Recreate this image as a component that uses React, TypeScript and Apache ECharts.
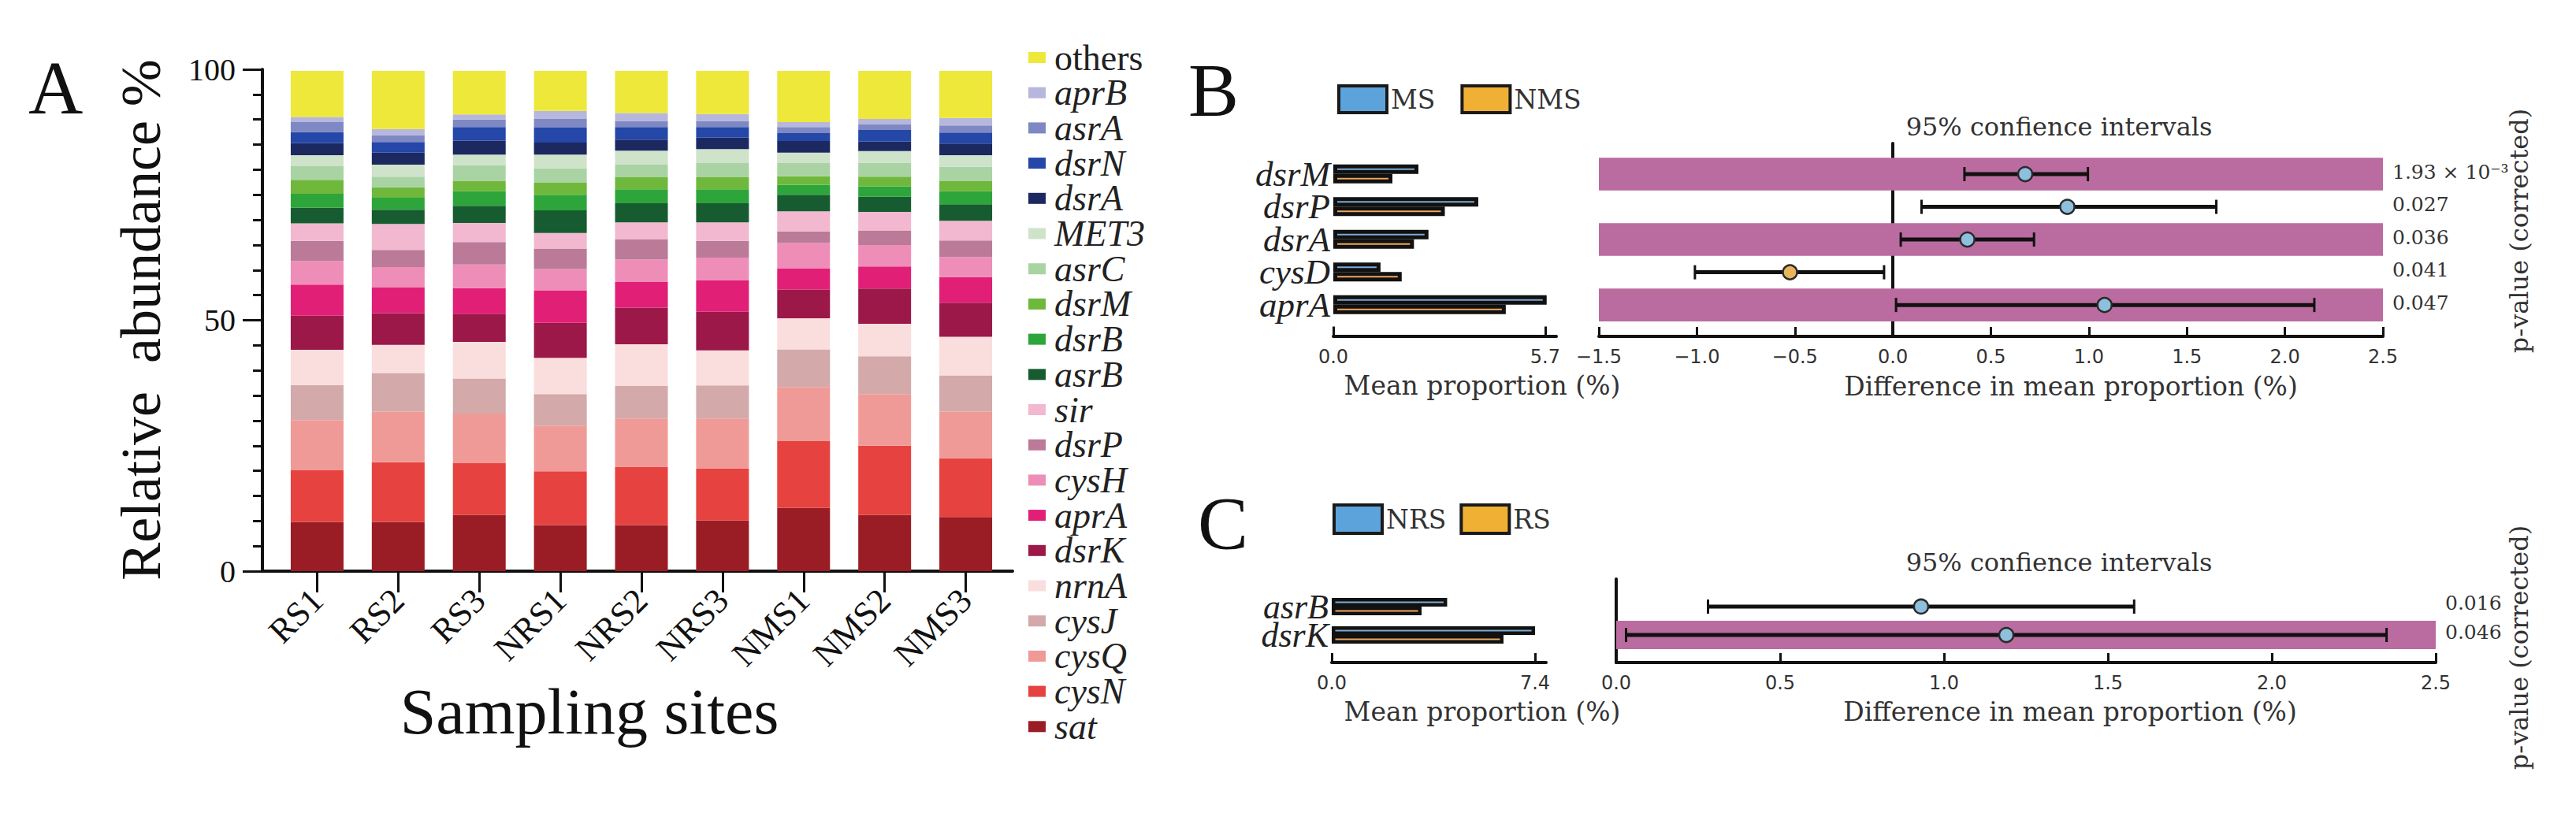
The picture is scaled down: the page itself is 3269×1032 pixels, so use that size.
import React, { useEffect, useRef } from 'react';
import * as echarts from 'echarts';

// ---------------- Panel A data ----------------
const sites = ['RS1', 'RS2', 'RS3', 'NRS1', 'NRS2', 'NRS3', 'NMS1', 'NMS2', 'NMS3'];
const others = [9.2, 11.6, 8.7, 8.0, 8.4, 8.6, 10.2, 9.6, 9.4];
const aprB = [1.0, 1.2, 1.0, 1.6, 1.6, 1.4, 1.0, 1.0, 1.5];
const asrA = [2.0, 1.4, 1.5, 1.7, 1.2, 1.2, 1.2, 1.2, 1.4];
const dsrN = [2.2, 2.1, 2.7, 3.0, 2.5, 2.1, 1.6, 2.3, 2.2];
const dsrA = [2.4, 2.4, 2.8, 2.4, 2.2, 2.3, 2.3, 1.9, 2.3];
const MET3 = [2.2, 2.4, 2.1, 2.7, 2.7, 2.8, 2.1, 2.3, 2.3];
const asrC = [2.7, 2.1, 3.1, 2.9, 2.6, 2.8, 2.6, 2.8, 2.9];
const dsrM = [2.8, 2.1, 2.1, 2.4, 2.4, 2.4, 1.7, 1.9, 2.0];
const dsrB = [2.8, 2.4, 2.9, 3.1, 2.8, 2.8, 2.0, 2.1, 2.6];
const asrB = [3.1, 2.8, 3.4, 4.5, 3.8, 3.8, 3.3, 3.0, 3.3];
const sir = [3.5, 5.2, 3.8, 3.1, 3.4, 3.7, 4.0, 3.8, 3.9];
const dsrP = [4.0, 3.4, 4.5, 4.1, 4.0, 3.3, 2.3, 2.8, 3.3];
const cysH = [4.7, 4.0, 4.7, 4.3, 4.5, 4.5, 5.1, 4.3, 4.0];
const aprA = [6.2, 5.2, 5.1, 6.4, 5.1, 6.3, 4.2, 4.4, 5.1];
const dsrK = [6.8, 6.3, 5.6, 7.0, 7.3, 7.7, 5.7, 7.0, 6.8];
const nrnA = [7.0, 5.6, 7.3, 7.2, 8.3, 7.0, 6.2, 6.5, 7.7];
const cysJ = [7.0, 7.7, 7.0, 6.3, 6.5, 6.6, 7.5, 7.5, 7.2];
const cysQ = [10.0, 10.1, 9.9, 9.1, 9.6, 10.0, 10.8, 10.3, 9.3];
const cysN = [10.3, 11.9, 10.3, 10.7, 11.6, 10.3, 13.3, 13.8, 11.7];
const sat = [9.8, 9.8, 11.2, 9.2, 9.2, 10.1, 12.6, 11.2, 10.8];

// legend order (top to bottom)
const geneNamesA = ['others', 'aprB', 'asrA', 'dsrN', 'dsrA', 'MET3', 'asrC', 'dsrM', 'dsrB', 'asrB',
  'sir', 'dsrP', 'cysH', 'aprA', 'dsrK', 'nrnA', 'cysJ', 'cysQ', 'cysN', 'sat'];
const geneDataA = [others, aprB, asrA, dsrN, dsrA, MET3, asrC, dsrM, dsrB, asrB,
  sir, dsrP, cysH, aprA, dsrK, nrnA, cysJ, cysQ, cysN, sat];
const geneColorsA = ['#EEE83A', '#B7B6DD', '#7E88C3', '#2447A8', '#1C2860', '#CFE2CA', '#A9D3A3', '#6FB83C',
  '#2DA53A', '#175C30', '#F1B8CF', '#BB7A98', '#EE8DB8', '#E11F76', '#9B1849', '#FADDDD', '#D3A9A9',
  '#F09A98', '#E6423F', '#9A1C25'];
const ticksA = [0, 50, 100];

// ---------------- Panel B data ----------------
const genesB = ['dsrM', 'dsrP', 'dsrA', 'cysD', 'aprA'];
const meanMS = [2.29, 3.9, 2.56, 1.27, 5.74];
const meanNMS = [1.59, 3.0, 2.17, 1.84, 4.64];
const diffB = [0.675, 0.89, 0.38, -0.525, 1.08];
const ciLowB = [0.365, 0.146, 0.04, -1.01, 0.016];
const ciHighB = [0.995, 1.65, 0.72, -0.045, 2.15];
const pValuesB = ['1.93 × 10⁻³', '0.027', '0.036', '0.041', '0.047'];
const shadedRowsB = [0, 2, 4];
const leftTicksB = [0, 5.7];

// ---------------- Panel C data ----------------
const genesC = ['asrB', 'dsrK'];
const meanNRS = [4.2, 7.4];
const meanRS = [3.27, 6.25];
const diffC = [0.93, 1.19];
const ciLowC = [0.28, 0.03];
const ciHighC = [1.58, 2.35];
const pValuesC = ['0.016', '0.046'];
const shadedRowsC = [1];
const leftTicksC = [0, 7.4];

// ---------------- styles ----------------
const TIMES = "'Liberation Serif', 'Times New Roman', Times, serif";
const SERIF2 = "'DejaVu Serif', Georgia, serif";
const SANS = "'DejaVu Sans', Verdana, sans-serif";
const INK = '#111';
const GREY = '#333';
const BAND = '#BA6B9F';
const DOT_POS = '#8EC0DD';
const DOT_NEG = '#E8B55E';

function fmtSigned(v: number) {
  if (Math.abs(v) < 1e-9) return '0.0';
  return v < 0 ? '\u2212' + Math.abs(v).toFixed(1) : v.toFixed(1);
}

function bandRenderer(xMin: number, xMax: number) {
  return (params: any, api: any) => {
    const row = api.value(1);
    const a = api.coord([xMin, row - 0.5]);
    const b = api.coord([xMax, row + 0.5]);
    return {
      type: 'rect',
      shape: { x: a[0], y: a[1], width: b[0] - a[0], height: b[1] - a[1] },
      style: { fill: BAND },
    };
  };
}

function ciRenderer(xMax: number, labels: string[], pOffsetY: number) {
  return (params: any, api: any) => {
    const mean = api.value(0);
    const row = api.value(1);
    const lo = api.value(2);
    const hi = api.value(3);
    const pm = api.coord([mean, row]);
    const pl = api.coord([lo, row]);
    const ph = api.coord([hi, row]);
    const pe = api.coord([xMax, row]);
    const cap = 9;
    return {
      type: 'group',
      children: [
        { type: 'line', shape: { x1: pl[0], y1: pl[1], x2: ph[0], y2: ph[1] }, style: { stroke: INK, lineWidth: 5 } },
        { type: 'line', shape: { x1: pl[0], y1: pl[1] - cap, x2: pl[0], y2: pl[1] + cap }, style: { stroke: INK, lineWidth: 3 } },
        { type: 'line', shape: { x1: ph[0], y1: ph[1] - cap, x2: ph[0], y2: ph[1] + cap }, style: { stroke: INK, lineWidth: 3 } },
        {
          type: 'circle', shape: { cx: pm[0], cy: pm[1], r: 9 },
          style: { fill: mean >= 0 ? DOT_POS : DOT_NEG, stroke: '#2a2a2a', lineWidth: 2.5 },
        },
        {
          type: 'text', x: pe[0] + 12, y: pe[1] + pOffsetY,
          style: {
            text: labels[params.dataIndex], fill: GREY, fontSize: 25, fontFamily: SERIF2,
            align: 'left', verticalAlign: 'middle', textAlign: 'left', textVerticalAlign: 'middle',
          },
        },
      ],
    };
  };
}

function txt(x: number, y: number, text: string, font: string, size: number, color: string, extra: any = {}) {
  return {
    type: 'text', x, y, rotation: extra.rotation || 0, silent: true,
    style: {
      text, fill: color, fontFamily: font, fontSize: size, fontStyle: extra.italic ? 'italic' : 'normal',
      align: extra.align || 'center', textAlign: extra.align || 'center',
      verticalAlign: 'middle', textVerticalAlign: 'middle',
    },
  };
}

function buildOption() {
  const seriesA = geneNamesA.map((name, i) => ({
    type: 'bar', name, stack: 'total', xAxisIndex: 0, yAxisIndex: 0, barWidth: 67,
    data: geneDataA[i], itemStyle: { color: geneColorsA[i] }, emphasis: { disabled: true },
  })).reverse();

  const barBorder = { borderColor: INK, borderWidth: 5 };
  const legendTextB = { fontFamily: SERIF2, fontSize: 33, color: GREY };

  const valueAxisCommon = {
    splitLine: { show: false },
    axisLine: { show: true, onZero: false, lineStyle: { color: INK, width: 4 } },
    axisTick: { show: true, inside: true, length: 12, lineStyle: { color: INK, width: 3 } },
    axisLabel: { fontFamily: SANS, fontSize: 24, color: GREY, margin: 14, formatter: fmtSigned },
  };

  return {
    animation: false,
    backgroundColor: '#ffffff',
    textStyle: { fontFamily: TIMES },
    grid: [
      { left: 351, top: 88, width: 926, height: 637 },
      { left: 333, top: 88, width: 952, height: 637 },
      { left: 1692, top: 200, width: 283, height: 207.5 },
      { left: 2029, top: 182, width: 995, height: 245 },
      { left: 1690, top: 752, width: 272, height: 72 },
      { left: 2051, top: 735, width: 1040, height: 106 },
    ],
    legend: [
      {
        data: geneNamesA, orient: 'vertical', left: 1300, top: 45, icon: 'rect',
        itemWidth: 22, itemHeight: 14, itemGap: -1.3, selectedMode: false,
        formatter: (name: string) => (name === 'others' ? '{n|' + name + '}' : '{i|' + name + '}'),
        textStyle: {
          fontFamily: TIMES, fontSize: 46, color: '#222',
          rich: {
            n: { fontFamily: TIMES, fontSize: 46, fontStyle: 'normal', color: '#222', padding: [0, 0, 0, 6] },
            i: { fontFamily: TIMES, fontSize: 46, fontStyle: 'italic', color: '#222', padding: [0, 0, 0, 6] },
          },
        },
      },
      {
        data: [
          { name: 'MS', itemStyle: { color: '#5DA3DB', borderColor: '#1a1a1a', borderWidth: 4 } },
          { name: 'NMS', itemStyle: { color: '#EFB034', borderColor: '#1a1a1a', borderWidth: 4 } },
        ],
        left: 1692, top: 102, icon: 'rect', itemWidth: 61, itemHeight: 34, itemGap: 32,
        selectedMode: false, textStyle: legendTextB,
      },
      {
        data: [
          { name: 'NRS', itemStyle: { color: '#5DA3DB', borderColor: '#1a1a1a', borderWidth: 4 } },
          { name: 'RS', itemStyle: { color: '#EFB034', borderColor: '#1a1a1a', borderWidth: 4 } },
        ],
        left: 1686, top: 634, icon: 'rect', itemWidth: 61, itemHeight: 36, itemGap: 17,
        selectedMode: false, textStyle: legendTextB,
      },
    ],
    xAxis: [
      {
        type: 'category', gridIndex: 0, data: sites,
        axisLine: { show: false },
        axisTick: { show: true, alignWithLabel: true, length: 27, lineStyle: { color: INK, width: 3 } },
        axisLabel: { rotate: 45, interval: 0, margin: 30, fontFamily: TIMES, fontSize: 44, color: INK, lineHeight: 34 },
      },
      {
        type: 'value', gridIndex: 1, min: 0, max: 1,
        axisLine: { show: true, lineStyle: { color: INK, width: 4 } },
        axisTick: { show: false }, axisLabel: { show: false }, splitLine: { show: false },
      },
      {
        ...valueAxisCommon, type: 'value', gridIndex: 2, min: 0, max: 6, offset: 19,
        axisTick: { ...valueAxisCommon.axisTick, customValues: leftTicksB },
        axisLabel: { ...valueAxisCommon.axisLabel, customValues: leftTicksB, formatter: (v: number) => v.toFixed(1) },
      },
      { ...valueAxisCommon, type: 'value', gridIndex: 3, min: -1.5, max: 2.5, interval: 0.5 },
      {
        ...valueAxisCommon, type: 'value', gridIndex: 4, min: 0, max: 7.8, offset: 17,
        axisTick: { ...valueAxisCommon.axisTick, customValues: leftTicksC },
        axisLabel: { ...valueAxisCommon.axisLabel, customValues: leftTicksC, formatter: (v: number) => v.toFixed(1) },
      },
      { ...valueAxisCommon, type: 'value', gridIndex: 5, min: 0, max: 2.5, interval: 0.5 },
    ],
    yAxis: [
      { type: 'value', gridIndex: 0, min: 0, max: 100, show: false },
      {
        type: 'value', gridIndex: 1, min: 0, max: 100, interval: 50,
        axisLine: { show: true, lineStyle: { color: INK, width: 4 } },
        axisTick: { show: true, length: 25, lineStyle: { color: INK, width: 3 } },
        minorTick: { show: true, splitNumber: 10, length: 12, lineStyle: { color: INK, width: 3 } },
        axisLabel: {
          fontFamily: TIMES, fontSize: 40, color: INK, margin: 34,
          customValues: ticksA,
        },
        splitLine: { show: false },
      },
      {
        type: 'category', gridIndex: 2, data: genesB, inverse: true,
        axisLine: { show: false }, axisTick: { show: false },
        axisLabel: { interval: 0, fontFamily: TIMES, fontStyle: 'italic', fontSize: 45, color: '#222', margin: 4, lineHeight: 34 },
      },
      {
        type: 'value', gridIndex: 3, inverse: true, min: -0.94, max: 4.96,
        axisLine: { show: true, onZero: true, lineStyle: { color: INK, width: 4 } },
        axisTick: { show: false }, axisLabel: { show: false }, splitLine: { show: false },
      },
      {
        type: 'category', gridIndex: 4, data: genesC, inverse: true,
        axisLine: { show: false }, axisTick: { show: false },
        axisLabel: { interval: 0, fontFamily: TIMES, fontStyle: 'italic', fontSize: 44, color: '#222', margin: 4, lineHeight: 32 },
      },
      {
        type: 'value', gridIndex: 5, inverse: true, min: -0.97, max: 1.97,
        axisLine: { show: true, onZero: true, lineStyle: { color: INK, width: 4 } },
        axisTick: { show: false }, axisLabel: { show: false }, splitLine: { show: false },
      },
    ],
    series: [
      ...seriesA,
      {
        type: 'bar', name: 'MS', xAxisIndex: 2, yAxisIndex: 2, data: meanMS, barWidth: 12, barGap: '0%',
        itemStyle: { color: '#7DAAD5', ...barBorder }, emphasis: { disabled: true },
      },
      {
        type: 'bar', name: 'NMS', xAxisIndex: 2, yAxisIndex: 2, data: meanNMS, barWidth: 12, barGap: '0%',
        itemStyle: { color: '#EFA75C', ...barBorder }, emphasis: { disabled: true },
      },
      {
        type: 'custom', xAxisIndex: 3, yAxisIndex: 3, z: 2, silent: true,
        data: shadedRowsB.map((r) => [0, r]), renderItem: bandRenderer(-1.5, 2.5),
      },
      {
        type: 'custom', xAxisIndex: 3, yAxisIndex: 3, z: 3, silent: true,
        data: genesB.map((g, i) => [diffB[i], i, ciLowB[i], ciHighB[i]]),
        renderItem: ciRenderer(2.5, pValuesB, -3),
      },
      {
        type: 'bar', name: 'NRS', xAxisIndex: 4, yAxisIndex: 4, data: meanNRS, barWidth: 11, barGap: '0%',
        itemStyle: { color: '#7DAAD5', ...barBorder, borderWidth: 4.5 }, emphasis: { disabled: true },
      },
      {
        type: 'bar', name: 'RS', xAxisIndex: 4, yAxisIndex: 4, data: meanRS, barWidth: 11, barGap: '0%',
        itemStyle: { color: '#EFA75C', ...barBorder, borderWidth: 4.5 }, emphasis: { disabled: true },
      },
      {
        type: 'custom', xAxisIndex: 5, yAxisIndex: 5, z: 2, silent: true,
        data: shadedRowsC.map((r) => [0, r]), renderItem: bandRenderer(0, 2.5),
      },
      {
        type: 'custom', xAxisIndex: 5, yAxisIndex: 5, z: 3, silent: true,
        data: genesC.map((g, i) => [diffC[i], i, ciLowC[i], ciHighC[i]]),
        renderItem: ciRenderer(2.5, pValuesC, -4),
      },
    ],
    graphic: [
      txt(36, 111, 'A', TIMES, 96, INK, { align: 'left' }),
      txt(179, 406, 'Relative  abundance %', TIMES, 72, INK, { rotation: Math.PI / 2 }),
      txt(748, 903, 'Sampling sites', TIMES, 82, INK),
      txt(1508, 114, 'B', TIMES, 96, INK, { align: 'left' }),
      txt(1520, 664, 'C', TIMES, 96, INK, { align: 'left' }),
      txt(2613, 161, '95% confience intervals', SERIF2, 32, GREY),
      txt(1881, 489, 'Mean proportion (%)', SERIF2, 33, GREY),
      txt(2628, 490, 'Difference in mean proportion (%)', SERIF2, 33, GREY),
      txt(3197, 293, 'p-value (corrected)', SERIF2, 32, GREY, { rotation: Math.PI / 2 }),
      txt(2613, 714, '95% confience intervals', SERIF2, 32, GREY),
      txt(1881, 903, 'Mean proportion (%)', SERIF2, 33, GREY),
      txt(2627, 903, 'Difference in mean proportion (%)', SERIF2, 33, GREY),
      txt(3197, 822, 'p-value (corrected)', SERIF2, 32, GREY, { rotation: Math.PI / 2 }),
    ],
  };
}

export default function App() {
  const ref = useRef<HTMLDivElement>(null);
  useEffect(() => {
    const chart = echarts.init(ref.current as HTMLDivElement, null, { renderer: 'svg' });
    chart.setOption(buildOption() as any);
    return () => chart.dispose();
  }, []);
  return (
    <div
      ref={ref}
      style={{ position: 'fixed', left: 0, top: 0, width: 3269, height: 1032, background: '#fff' }}
    />
  );
}
